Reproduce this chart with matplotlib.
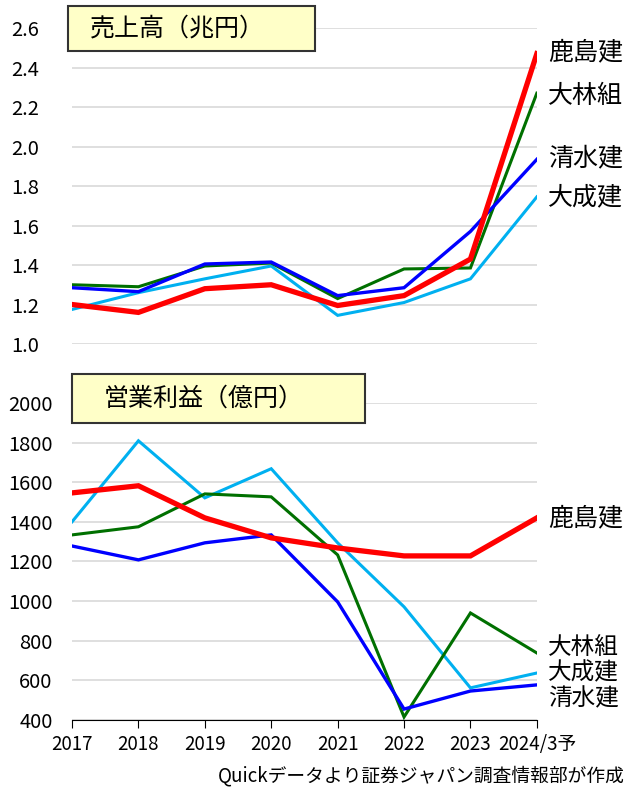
import matplotlib
matplotlib.use('Agg')
import matplotlib.pyplot as plt
from matplotlib.patches import Rectangle

plt.rcParams['font.family'] = ['Noto Sans CJK JP', 'DejaVu Sans']

# データ
years = ['2017', '2018', '2019', '2020', '2021', '2022', '2023', '2024/3予']
colors = ['#FF0000', '#007000', '#0000FF', '#00B0F0']

# 売上高（兆円）
sales_kajima = [1.20, 1.16, 1.28, 1.30, 1.195, 1.245, 1.43, 2.47]
sales_obayashi = [1.30, 1.29, 1.395, 1.41, 1.23, 1.38, 1.385, 2.27]
sales_shimizu = [1.285, 1.265, 1.405, 1.415, 1.245, 1.285, 1.57, 1.935]
sales_taisei = [1.175, 1.26, 1.33, 1.395, 1.145, 1.21, 1.33, 1.745]

# 営業利益（億円）
op_kajima = [1546, 1582, 1420, 1319, 1268, 1228, 1228, 1420]
op_obayashi = [1334, 1375, 1541, 1526, 1233, 415, 940, 738]
op_shimizu = [1278, 1208, 1294, 1334, 996, 455, 546, 577]
op_taisei = [1400, 1809, 1521, 1668, 1294, 971, 562, 637]

sales = [sales_kajima, sales_obayashi, sales_shimizu, sales_taisei]
ops = [op_kajima, op_obayashi, op_shimizu, op_taisei]

# 右側ラベル（上から順）
top_labels = ['鹿島建', '大林組', '清水建', '大成建']
bot_labels = ['鹿島建', '大林組', '大成建', '清水建']

fig = plt.figure(figsize=(6.29, 7.89), dpi=100)
ax1 = fig.add_axes([0.1145, 0.564, 0.739, 0.4005])
ax2 = fig.add_axes([0.1145, 0.0875, 0.739, 0.4018])

x = list(range(len(years)))
widths = [3.8, 2.2, 2.4, 2.2]
zord = [6, 4, 5, 3]

for ax in (ax1, ax2):
    for s in ax.spines.values():
        s.set_visible(False)
    ax.grid(axis='y', color='#D9D9D9', lw=1.2)
    ax.set_axisbelow(True)
    ax.set_xlim(0, 7)
    ax.tick_params(axis='y', length=0, labelsize=14.5)

# 上段
for vals, c, w, z in zip(sales, colors, widths, zord):
    ax1.plot(x, vals, color=c, lw=w, zorder=z, solid_joinstyle='miter')
ax1.set_ylim(1.0, 2.6)
ax1.set_yticks([1.0, 1.2, 1.4, 1.6, 1.8, 2.0, 2.2, 2.4, 2.6])
ax1.set_yticklabels(['1.0', '1.2', '1.4', '1.6', '1.8', '2.0', '2.2', '2.4', '2.6'])
ax1.tick_params(axis='y', pad=24)
ax1.set_xticks([])

# 下段
for vals, c, w, z in zip(ops, colors, widths, zord):
    ax2.plot(x, vals, color=c, lw=w, zorder=z, solid_joinstyle='miter')
ax2.set_ylim(400, 2000)
ax2.set_yticks(range(400, 2001, 200))
ax2.tick_params(axis='y', pad=14)
ax2.spines['bottom'].set_visible(True)
ax2.spines['bottom'].set_color('black')
ax2.set_xticks(x)
ax2.set_xticklabels(years)
ax2.tick_params(axis='x', direction='out', length=6, labelsize=13.5, pad=4)

# タイトルボックス
W, H = 629, 789
def title_box(x0, y0, x1, y1, text, tx):
    fig.patches.append(Rectangle((x0 / W, 1 - y1 / H), (x1 - x0) / W, (y1 - y0) / H,
                                 transform=fig.transFigure, facecolor='#FFFFC8',
                                 edgecolor='#333333', lw=1.5, zorder=10))
    fig.text(tx / W, 1 - (y0 + y1) / 2 / H, text, fontsize=18, va='center', ha='left', zorder=11)

title_box(68, 6, 315, 51, '売上高（兆円）', 90)
title_box(72, 374, 365, 423, '営業利益（億円）', 104)

top_label_y = [52, 96, 158, 197]
bot_label_y = [518, 647, 673, 699]
bot_sizes = [18, 17, 17, 17]
for name, y in zip(top_labels, top_label_y):
    fig.text(548 / W, 1 - y / H, name, fontsize=18, va='center', ha='left')
for name, y, fs in zip(bot_labels, bot_label_y, bot_sizes):
    fig.text(548 / W, 1 - y / H, name, fontsize=fs, va='center', ha='left')

fig.text(625 / W, 1 - 776 / H, 'Quickデータより証券ジャパン調査情報部が作成', fontsize=13.5, ha='right', va='center')

fig.savefig('out.png', dpi=100)
plt.close()
